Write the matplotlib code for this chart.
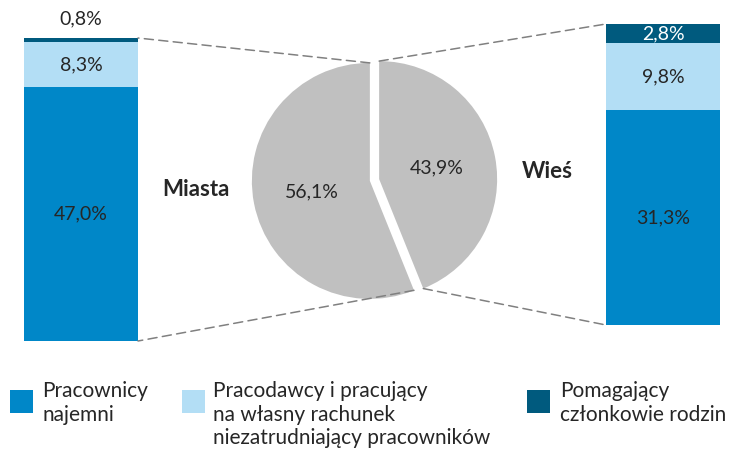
import matplotlib
matplotlib.use('Agg')
import numpy as np
import matplotlib.pyplot as plt
from matplotlib.patches import ConnectionPatch, Rectangle

plt.rcParams['font.family'] = ['Lato', 'DejaVu Sans']

# dane
obszary = ['Miasta', 'Wieś']
udzial_obszar = [56.1, 43.9]
grupy = ['Pracownicy\nnajemni',
         'Pracodawcy i pracujący\nna własny rachunek\nniezatrudniający pracowników',
         'Pomagający\nczłonkowie rodzin']
miasta = [47.0, 8.3, 0.8]
wies = [31.3, 9.8, 2.8]

kolory = ['#0087C8', '#B3DEF5', '#005A7E']
szary = '#C0C0C0'
tekst = '#262626'

W, H = 736, 450


def box(x0, y0, x1, y1):
    # piksele -> ulamki figury
    return [x0 / W, 1 - y1 / H, (x1 - x0) / W, (y1 - y0) / H]


def pct(v):
    return f'{v:.1f}%'.replace('.', ',')


fig = plt.figure(figsize=(7.36, 4.5), dpi=100)

ax_l = fig.add_axes(box(24, 38, 138, 341))
ax_r = fig.add_axes(box(606, 24, 720, 325))
ax_p = fig.add_axes(box(374.5 - 141.6, 180 - 141.6, 374.5 + 141.6, 180 + 141.6))

# kolowy
wedges, texts, autotexts = ax_p.pie(
    udzial_obszar, startangle=90, colors=[szary, szary], explode=[0.04, 0.04],
    autopct=lambda p: pct(p), pctdistance=0.5,
    textprops=dict(fontsize=14, color=tekst), wedgeprops=dict(linewidth=0))
ax_p.set_xlim(-1.2, 1.2)
ax_p.set_ylim(-1.2, 1.2)
ax_p.set_aspect('equal')
ax_p.axis('off')


# slupki
def slupek(ax, wartosci, kolor_etykiet):
    dol = 0
    for v, c, kt in zip(wartosci, kolory, kolor_etykiet):
        ax.bar(0, v, bottom=dol, width=1, color=c, linewidth=0)
        if kt is not None:
            ax.text(0, dol + v / 2, pct(v), ha='center', va='center',
                    fontsize=14, color=kt)
        dol += v
    ax.set_xlim(-0.5, 0.5)
    ax.set_ylim(0, sum(wartosci))
    ax.axis('off')


slupek(ax_l, miasta, [tekst, tekst, None])
ax_l.annotate(pct(miasta[2]), (0, sum(miasta)), xytext=(0, 8), textcoords='offset points',
              ha='center', va='bottom', fontsize=14, color=tekst, annotation_clip=False)
slupek(ax_r, wies, [tekst, tekst, 'white'])

# linie laczace
def punkt(w, kat):
    cx, cy = w.center
    return (cx + w.r * np.cos(np.radians(kat)), cy + w.r * np.sin(np.radians(kat)))


polaczenia = [
    (punkt(wedges[0], wedges[0].theta1), ax_l, (0.5, sum(miasta))),
    (punkt(wedges[0], wedges[0].theta2), ax_l, (0.5, 0)),
    (punkt(wedges[1], wedges[1].theta2), ax_r, (-0.5, sum(wies))),
    (punkt(wedges[1], wedges[1].theta1), ax_r, (-0.5, 0)),
]
for xyA, ax_b, xyB in polaczenia:
    con = ConnectionPatch(xyA=xyA, coordsA=ax_p.transData, xyB=xyB, coordsB=ax_b.transData,
                          color='#808080', linewidth=1.1, linestyle=(0, (6, 3.5)))
    fig.add_artist(con)

# nazwy obszarow
fig.text(196 / W, 1 - 190 / H, obszary[0], ha='center', va='center',
         fontsize=16, fontweight='bold', color=tekst)
fig.text(547 / W, 1 - 172 / H, obszary[1], ha='center', va='center',
         fontsize=16, fontweight='bold', color=tekst)

# legenda
leg_x = [(10, 42), (182, 213), (527, 560)]
for (xs, xt), lab, c in zip(leg_x, grupy, kolory):
    fig.add_artist(Rectangle((xs / W, 1 - 413 / H), 23 / W, 23 / H,
                             transform=fig.transFigure, color=c, linewidth=0))
    fig.text(xt / W, 1 - 381 / H, lab, ha='left', va='top', fontsize=15,
             color=tekst, linespacing=1.22)

plt.savefig('out.png', dpi=100)
